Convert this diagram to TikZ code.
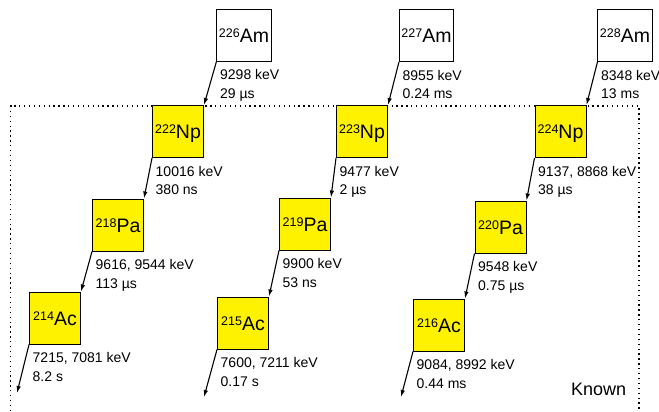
\documentclass[tikz,border=0pt]{standalone}
\usepackage{fontspec}
\setmainfont{Liberation Sans}
\usetikzlibrary{arrows.meta}

\newcommand{\iso}[2]{\raisebox{5bp}{\fontsize{12.5bp}{14bp}\selectfont #1}#2}

\begin{document}
\begin{tikzpicture}[x=1bp,y=-1bp,
  nuc/.style={draw,line width=1bp,minimum width=51bp,minimum height=52bp,inner sep=2bp,text height=14bp,text depth=0bp,font=\fontsize{19.5bp}{22bp}\selectfont},
  newnuc/.style={nuc,fill=yellow},
  lbl/.style={anchor=north west,inner sep=0pt,align=left,font=\fontsize{14bp}{18.5bp}\selectfont},
  decay/.style={line width=1.1bp,-{Latex[length=7bp,width=4.5bp]}},
  frame/.style={line width=1.3bp,dash pattern=on 1.3bp off 3.6bp}]
\useasboundingbox (0,0) rectangle (659,411);
\draw[frame] (10.5,411) -- (10.5,106) -- (639,106) -- (639,411);
\node[nuc] (am226) at (244,35) {\iso{226}{Am}};
\node[nuc] (am227) at (426.5,35.5) {\iso{227}{Am}};
\node[nuc] (am228) at (625,35.5) {\iso{228}{Am}};
\node[newnuc] (np222) at (178,131.5) {\iso{222}{Np}};
\node[newnuc] (np223) at (362,131.5) {\iso{223}{Np}};
\node[newnuc] (np224) at (560.5,131.5) {\iso{224}{Np}};
\node[newnuc] (pa218) at (118,225) {\iso{218}{Pa}};
\node[newnuc] (pa219) at (305,224) {\iso{219}{Pa}};
\node[newnuc] (pa220) at (500.5,227) {\iso{220}{Pa}};
\node[newnuc] (ac214) at (55,318) {\iso{214}{Ac}};
\node[newnuc] (ac215) at (243,323) {\iso{215}{Ac}};
\node[newnuc] (ac216) at (439,325) {\iso{216}{Ac}};
\coordinate (end214) at (17,393);
\coordinate (end215) at (204,397);
\coordinate (end216) at (401,397);
\draw[decay] (am226.south west) -- (np222.north east);
\draw[decay] (np222.south west) -- (pa218.north east);
\draw[decay] (pa218.south west) -- (ac214.north east);
\draw[decay] (ac214.south west) -- (end214);
\draw[decay] (am227.south west) -- (np223.north east);
\draw[decay] (np223.south west) -- (pa219.north east);
\draw[decay] (pa219.south west) -- (ac215.north east);
\draw[decay] (ac215.south west) -- (end215);
\draw[decay] (am228.south west) -- (np224.north east);
\draw[decay] (np224.south west) -- (pa220.north east);
\draw[decay] (pa220.south west) -- (ac216.north east);
\draw[decay] (ac216.south west) -- (end216);
\node[lbl] (l226) at ([shift={(3.5,8)}]am226.south west) {9298 keV\\29 µs};
\node[lbl] (l227) at ([shift={(3.5,8)}]am227.south west) {8955 keV\\0.24 ms};
\node[lbl] (l228) at ([shift={(3.5,8)}]am228.south west) {8348 keV\\13 ms};
\node[lbl] (l222) at ([shift={(3.5,8)}]np222.south west) {10016 keV\\380 ns};
\node[lbl] (l223) at ([shift={(3.5,8)}]np223.south west) {9477 keV\\2 µs};
\node[lbl] (l224) at ([shift={(3.5,8)}]np224.south west) {9137, 8868 keV\\38 µs};
\node[lbl] (l218) at ([shift={(3.5,8)}]pa218.south west) {9616, 9544 keV\\113 µs};
\node[lbl] (l219) at ([shift={(3.5,8)}]pa219.south west) {9900 keV\\53 ns};
\node[lbl] (l220) at ([shift={(3.5,8)}]pa220.south west) {9548 keV\\0.75 µs};
\node[lbl] (l214) at ([shift={(3.5,8)}]ac214.south west) {7215, 7081 keV\\8.2 s};
\node[lbl] (l215) at ([shift={(3.5,8)}]ac215.south west) {7600, 7211 keV\\0.17 s};
\node[lbl] (l216) at ([shift={(3.5,8)}]ac216.south west) {9084, 8992 keV\\0.44 ms};
\node[anchor=base west,inner sep=0pt,font=\fontsize{18bp}{20bp}\selectfont] (known) at (571,395) {Known};
\end{tikzpicture}
\end{document}
